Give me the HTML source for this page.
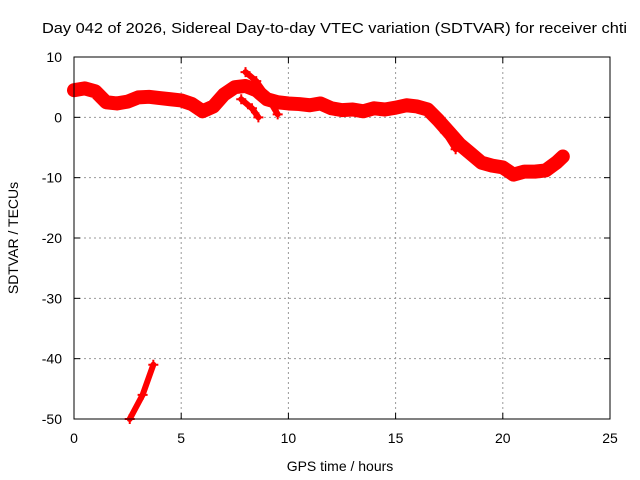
<!DOCTYPE html>
<html><head><meta charset="utf-8"><style>
body{margin:0;background:#fff}
svg{display:block;font-family:"Liberation Sans",sans-serif}
</style></head><body>
<svg id="c" width="640" height="480">
<text x="42" y="33" font-size="15" textLength="585" lengthAdjust="spacingAndGlyphs">Day 042 of 2026, Sidereal Day-to-day VTEC variation (SDTVAR) for receiver chti</text>
<g id="grid"></g><g id="ticks"></g><g id="marks"></g>
<rect x="74" y="57" width="536" height="362" fill="none" stroke="#000" stroke-width="1"/>
<text x="340" y="471" font-size="14" text-anchor="middle">GPS time / hours</text>
<text transform="translate(18,238) rotate(-90)" font-size="14" text-anchor="middle">SDTVAR / TECUs</text>
</svg>
<script>
const xTicks=[0,5,10,15,20,25];
const yTicks=[10,0,-10,-20,-30,-40,-50];
const mainHours=[0,0.5,1,1.5,2,2.5,3,3.5,4,4.5,5,5.5,6,6.5,7,7.5,8,8.5,9,9.5,10,10.5,11,11.5,12,12.5,13,13.5,14,14.5,15,15.5,16,16.5,17,17.5,18,18.5,19,19.5,20,20.5,21,21.5,22,22.5,22.8];
const mainValues=[4.5,4.8,4.3,2.5,2.3,2.6,3.3,3.4,3.2,3,2.8,2.2,1,1.8,3.8,5,5.2,4.5,3,2.5,2.3,2.2,2,2.3,1.5,1.2,1.3,1,1.5,1.3,1.6,2,1.8,1.3,-0.5,-2.5,-4.5,-6,-7.5,-8,-8.3,-9.5,-9,-9,-8.8,-7.5,-6.5];
const branch1Hours=[8,8.5,9,9.5];
const branch1Values=[7.5,6,3.5,0.5];
const branch2Hours=[7.8,8.3,8.6];
const branch2Values=[3,1.5,0];
const branch3Hours=[16.8,17.3,17.8];
const branch3Values=[0,-2.5,-5.3];
const lowHours=[2.6,3.2,3.7];
const lowValues=[-50,-46,-41];
const X=h=>74+h*536/25, Y=v=>57+(10-v)*362/60;
const NS='http://www.w3.org/2000/svg';
function mk(t,a,p){const e=document.createElementNS(NS,t);for(const k in a)e.setAttribute(k,a[k]);p.appendChild(e);return e;}
const grid=document.getElementById('grid'),ticks=document.getElementById('ticks'),marks=document.getElementById('marks');
xTicks.forEach(t=>{
 if(t>0&&t<25){const l=mk('line',{x1:X(t),x2:X(t),y1:57,y2:419,stroke:'#999','stroke-dasharray':'2,3'},grid);
 
 }
 const tx=mk('text',{x:X(t),y:443,'font-size':14,'text-anchor':'middle'},ticks);tx.textContent=t;
 
 
 mk('line',{x1:X(t),x2:X(t),y1:419,y2:413,stroke:'#000'},ticks);
 mk('line',{x1:X(t),x2:X(t),y1:57,y2:63,stroke:'#000'},ticks);
});
yTicks.forEach(t=>{
 if(t<10&&t>-50){const l=mk('line',{x1:74,x2:610,y1:Y(t),y2:Y(t),stroke:'#999','stroke-dasharray':'2,3'},grid);
 
 }
 const tx=mk('text',{x:62,y:Y(t)+5,'font-size':14,'text-anchor':'end'},ticks);tx.textContent=t;
 
 
 mk('line',{x1:74,x2:80,y1:Y(t),y2:Y(t),stroke:'#000'},ticks);
 mk('line',{x1:610,x2:604,y1:Y(t),y2:Y(t),stroke:'#000'},ticks);
});
function series(hs,vs,w,name){
 const p=mk('polyline',{points:hs.map((h,i)=>X(h)+','+Y(vs[i])).join(' '),fill:'none',stroke:'#f00','stroke-width':w,'stroke-linejoin':'round','stroke-linecap':'round'},marks);
 
 
 hs.forEach((h,i)=>{const x=X(h),y=Y(vs[i]);
  mk('path',{d:`M${x-5},${y}h10M${x},${y-5}v10`,stroke:'#f00','stroke-width':2},marks);});
}
series(mainHours,mainValues,14,'sdtvar-main-track');
series(branch1Hours,branch1Values,6,'sdtvar-branch-1');
series(branch2Hours,branch2Values,6,'sdtvar-branch-2');
series(branch3Hours,branch3Values,6,'sdtvar-branch-3');
series(lowHours,lowValues,6,'sdtvar-low-track');
</script>
</body></html>
